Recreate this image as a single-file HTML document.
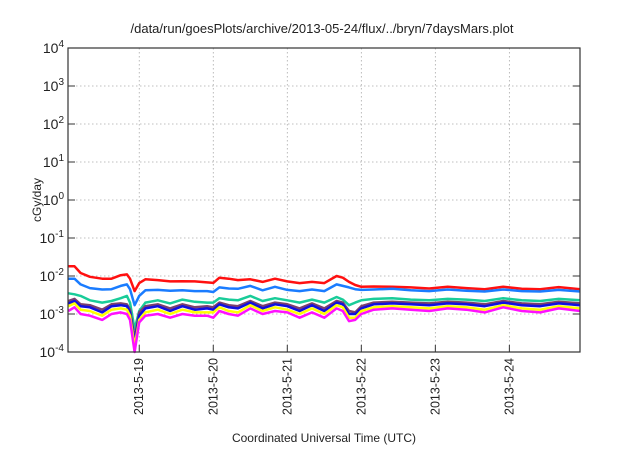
<!DOCTYPE html>
<html><head><meta charset="utf-8"><style>
body{margin:0;background:#fff}
text{font-family:"Liberation Sans",sans-serif;fill:#222}
</style></head><body>
<svg id="chart" width="640" height="448" viewBox="0 0 640 448" xmlns="http://www.w3.org/2000/svg">
<rect width="640" height="448" fill="#fff"/>
<text x="322" y="33" font-size="13" text-anchor="middle">/data/run/goesPlots/archive/2013-05-24/flux/../bryn/7daysMars.plot</text>
<text transform="translate(41,200) rotate(-90)" font-size="12" text-anchor="middle">cGy/day</text>
<text x="324" y="442" font-size="12" text-anchor="middle">Coordinated Universal Time (UTC)</text>
<g id="grid"></g><g id="series"></g><g id="axes"></g>
</svg>
<script>
const times=[1,3,5,8,12,15,18,20,21,22.5,24,26,30,34,38,42,46,48,50,53,56,60,64,68,72,76,80,84,88,90,92,94,96,100,106,112,118,124,130,136,142,148,154,160,167];
const red=[0.018,0.018,0.012,0.0095,0.0085,0.0085,0.0105,0.011,0.0085,0.0040,0.0065,0.0082,0.0078,0.0072,0.0073,0.0072,0.0068,0.0066,0.0090,0.0085,0.0078,0.0082,0.0070,0.0085,0.0072,0.0065,0.0070,0.0065,0.0100,0.0090,0.0070,0.0058,0.0052,0.0053,0.0052,0.0050,0.0047,0.0052,0.0048,0.0045,0.0052,0.0046,0.0045,0.0051,0.0045];
const skyBlue=[0.0085,0.0085,0.0060,0.0048,0.0044,0.0045,0.0055,0.0060,0.0045,0.0017,0.0030,0.0042,0.0043,0.0041,0.0042,0.0040,0.0040,0.0038,0.0050,0.0047,0.0046,0.0055,0.0042,0.0052,0.0043,0.0040,0.0044,0.0040,0.0060,0.0055,0.0050,0.0045,0.0043,0.0044,0.0046,0.0042,0.0040,0.0044,0.0041,0.0039,0.0044,0.0040,0.0039,0.0043,0.0039];
const green=[0.0035,0.0033,0.0030,0.0023,0.0020,0.0022,0.0026,0.0030,0.0020,0.0004,0.0012,0.0020,0.0023,0.0019,0.0024,0.0021,0.0020,0.0020,0.0026,0.0024,0.0023,0.0030,0.0022,0.0026,0.0023,0.0020,0.0024,0.0020,0.0028,0.0024,0.0017,0.0020,0.0023,0.0025,0.0026,0.0024,0.0023,0.0025,0.0024,0.0022,0.0026,0.0023,0.0022,0.0025,0.0023];
const purple=[0.0022,0.0025,0.0018,0.0017,0.0013,0.0018,0.0019,0.0018,0.0013,0.00022,0.0011,0.0016,0.0018,0.0014,0.0018,0.0015,0.0016,0.0015,0.0020,0.0017,0.0016,0.0022,0.0016,0.0020,0.0018,0.0014,0.0019,0.0014,0.0022,0.0020,0.0012,0.0011,0.0016,0.0020,0.0021,0.0020,0.0019,0.0021,0.0020,0.0018,0.0022,0.0019,0.0018,0.0021,0.0019];
const darkBlue=[0.0019,0.0022,0.0016,0.0015,0.0011,0.0016,0.0017,0.0016,0.0011,0.00018,0.0009,0.0014,0.0016,0.0012,0.0016,0.0013,0.0014,0.0013,0.0018,0.0015,0.0014,0.0020,0.0014,0.0018,0.0016,0.0012,0.0017,0.0012,0.0020,0.0018,0.0010,0.0010,0.0014,0.0018,0.0019,0.0018,0.0017,0.0019,0.0018,0.0016,0.0020,0.0017,0.0016,0.0019,0.0017];
const yellow=[0.0016,0.0019,0.0013,0.0012,0.0009,0.0013,0.0014,0.0013,0.0009,0.00014,0.0007,0.0011,0.0013,0.0010,0.0013,0.0011,0.0011,0.0011,0.0015,0.0012,0.0011,0.0017,0.0012,0.0015,0.0013,0.0010,0.0014,0.0010,0.0017,0.0015,0.0008,0.0008,0.0012,0.0015,0.0016,0.0015,0.0014,0.0016,0.0015,0.0013,0.0017,0.0014,0.0013,0.0016,0.0014];
const magenta=[0.0012,0.0015,0.0010,0.0009,0.0007,0.0010,0.0011,0.0010,0.0007,0.0001,0.0006,0.0009,0.0010,0.0008,0.0010,0.0009,0.0009,0.0008,0.0012,0.0010,0.0009,0.0014,0.0010,0.0012,0.0011,0.0008,0.0011,0.0008,0.0014,0.0012,0.00065,0.0007,0.0010,0.0013,0.0014,0.0013,0.0012,0.0014,0.0013,0.0011,0.0015,0.0012,0.0011,0.0014,0.0012];
const xTickHours=[24,48,72,96,120,144];
const xTickLabels=["2013-5-19","2013-5-20","2013-5-21","2013-5-22","2013-5-23","2013-5-24"];
const yTickExps=[-4,-3,-2,-1,0,1,2,3,4];

const L=68,R=580,T=48,B=352,H0=0.9,H1=166.9;
const NS="http://www.w3.org/2000/svg";
function xs(h){return L+(h-H0)/(H1-H0)*(R-L);}
function ys(v){return B-(Math.log10(v)+4)/8*(B-T);}
function mk(tag,attrs,parent){const e=document.createElementNS(NS,tag);for(const k in attrs)e.setAttribute(k,attrs[k]);parent.appendChild(e);return e;}
const grid=document.getElementById('grid'),axes=document.getElementById('axes'),ser=document.getElementById('series');
yTickExps.forEach(p=>{
  const y=ys(Math.pow(10,p));
  if(p>-4&&p<4){const g=mk('line',{x1:L,x2:R,y1:y,y2:y,stroke:'#aaa','stroke-width':0.8,'stroke-dasharray':'1.5,2.5'},grid);
  
  }
  const t1=mk('line',{x1:L,x2:L+7,y1:y,y2:y,stroke:'#333','stroke-width':1},axes);
  
  
  const t2=mk('line',{x1:R-7,x2:R,y1:y,y2:y,stroke:'#333','stroke-width':1},axes);
  
  
  const tx=mk('text',{x:L-4,y:y+5,'font-size':14,'text-anchor':'end'},axes);
  
  
  const m=document.createElementNS(NS,'tspan');m.textContent='10';tx.appendChild(m);
  const s=document.createElementNS(NS,'tspan');s.setAttribute('dy','-6');s.setAttribute('font-size','10');s.textContent=String(p);tx.appendChild(s);
});
xTickHours.forEach((h,i)=>{
  const x=xs(h);
  const g=mk('line',{x1:x,x2:x,y1:T,y2:B,stroke:'#aaa','stroke-width':0.8,'stroke-dasharray':'1.5,2.5'},grid);
  
  
  const t=mk('line',{x1:x,x2:x,y1:B-7,y2:B,stroke:'#333','stroke-width':1},axes);
  
  
  const tx=mk('text',{transform:`translate(${x+4},${B+6}) rotate(-90)`,'font-size':12.5,'text-anchor':'end'},axes);
  
  
  tx.textContent=xTickLabels[i];
});
const frame=mk('rect',{x:L,y:T,width:R-L,height:B-T,fill:'none',stroke:'#333','stroke-width':1.2},axes);


const seriesList=[[red,'#ff1010','series-red'],[skyBlue,'#1a7cff','series-sky-blue'],[green,'#19cc99','series-green'],[purple,'#7a3f6e','series-purple'],[darkBlue,'#1010e0','series-dark-blue'],[yellow,'#ffff00','series-yellow'],[magenta,'#ff10ff','series-magenta']];
seriesList.forEach(([vals,col,name])=>{
  const d=vals.map((v,i)=>(i?'L':'M')+xs(times[i]).toFixed(1)+','+ys(v).toFixed(1)).join('');
  const p=mk('path',{d:d,fill:'none',stroke:col,'stroke-width':2.5,'stroke-linejoin':'round'},ser);
  
  
});
</script>
</body></html>
